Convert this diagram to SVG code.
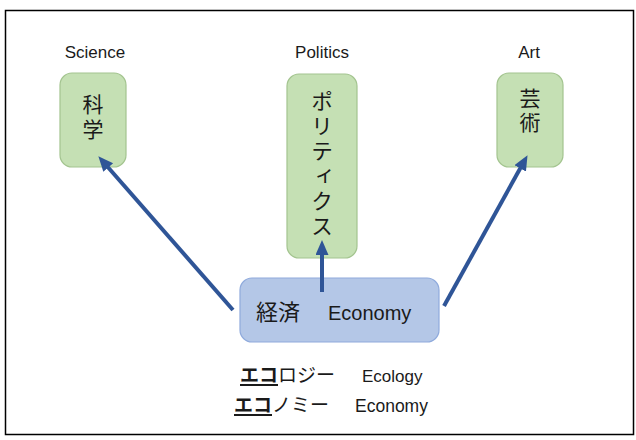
<svg xmlns="http://www.w3.org/2000/svg" width="636" height="440" viewBox="0 0 636 440">
<defs>
<style>
.en{font-family:"Liberation Sans","Noto Sans",sans-serif;fill:#1a1a1a}
.jp{font-family:"Noto Sans CJK JP","Noto Sans",sans-serif;fill:#1a1a1a}
.green{fill:#c5e0b4;stroke:#a3c48f;stroke-width:1.2}
.blue{fill:#b4c7e7;stroke:#8faadc;stroke-width:1.2}
.conn{stroke:#2f5597;stroke-width:4;fill:none}
.vert{writing-mode:vertical-rl;text-orientation:upright}
</style>
<marker id="ah" markerUnits="userSpaceOnUse" markerWidth="16" markerHeight="14" refX="4" refY="6.5" orient="auto">
<path d="M0,0 L15,6.5 L0,13 z" fill="#2f5597"/>
</marker>
</defs>
<rect x="5.5" y="10.5" width="628" height="424" fill="#fff" stroke="#000" stroke-width="1.5"/>
<g id="science">
<text class="en" x="95" y="58" font-size="17" text-anchor="middle">Science</text>
<rect class="green" x="60" y="73" width="66" height="94" rx="12"/>
<text class="jp vert" x="93" y="93.5" font-size="21" letter-spacing="4">科学</text>
</g>
<g id="politics">
<text class="en" x="322" y="58" font-size="17" text-anchor="middle">Politics</text>
<rect class="green" x="287" y="74" width="70" height="184" rx="12"/>
<text class="jp vert" x="322" y="90" font-size="22" letter-spacing="3">ポリティクス</text>
</g>
<g id="art">
<text class="en" x="529" y="58" font-size="17" text-anchor="middle">Art</text>
<rect class="green" x="497" y="73" width="66" height="94" rx="12"/>
<text class="jp vert" x="530" y="88" font-size="21" letter-spacing="3">芸術</text>
</g>
<g id="economy">
<rect class="blue" x="240" y="278" width="199" height="64" rx="12"/>
<text class="jp" x="256" y="320" font-size="22">経済</text>
<text class="en" x="328" y="320" font-size="20">Economy</text>
</g>
<g id="connectors">
<line class="conn" x1="233" y1="310" x2="105.6" y2="164.5" marker-end="url(#ah)"/>
<line class="conn" x1="322" y1="292" x2="322" y2="251" marker-end="url(#ah)"/>
<line class="conn" x1="444" y1="306" x2="522.2" y2="164.8" marker-end="url(#ah)"/>
</g>
<g id="notes">
<text class="jp" x="240" y="382" font-size="19"><tspan font-weight="bold">エコ</tspan>ロジー</text>
<line x1="240" y1="385" x2="278" y2="385" stroke="#1a1a1a" stroke-width="2"/>
<text class="en" x="362" y="382" font-size="17">Ecology</text>
<text class="jp" x="234" y="412" font-size="19"><tspan font-weight="bold">エコ</tspan>ノミー</text>
<line x1="234" y1="415" x2="272" y2="415" stroke="#1a1a1a" stroke-width="2"/>
<text class="en" x="355" y="412" font-size="17.5">Economy</text>
</g>
</svg>
